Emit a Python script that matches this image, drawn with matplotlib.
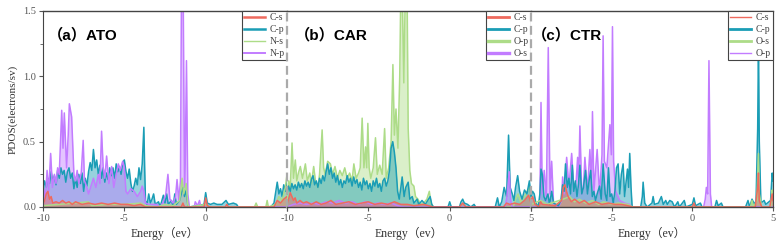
import numpy as np
import matplotlib
matplotlib.use("Agg")
import matplotlib.pyplot as plt

plt.rcParams['axes.unicode_minus'] = False

# ---- data (energy in eV, PDOS in electrons/sv) ----
# (a) ATO
a_cs_e = [-10.0, -9.9, -9.8, -9.7, -9.6, -9.5, -9.4, -9.2, -9.0, -8.8, -8.6, -8.4, -8.2, -8.0, -7.6, -7.2,
          -6.8, -6.4, -6.0, -5.6, -5.2, -4.8, -4.4, -4.0, -3.7, -1.5, -1.4, -1.3, -0.1, 0.0, 0.1, 0.3,
          1.2, 1.3, 1.4, 4.2, 4.4, 4.6, 4.8, 5.0]
a_cs_v = [0.02, 0.05, 0.10, 0.12, 0.06, 0.08, 0.03, 0.04, 0.03, 0.05, 0.03, 0.04, 0.02, 0.04, 0.02, 0.03,
          0.02, 0.03, 0.02, 0.03, 0.02, 0.02, 0.01, 0.02, 0.0, 0.0, 0.03, 0.0, 0.0, 0.07, 0.01, 0.0,
          0.0, 0.02, 0.0, 0.0, 0.05, 0.03, 0.06, 0.08]

a_cp_e = [-10.0, -9.9, -9.8, -9.7, -9.6, -9.5, -9.4, -9.3, -9.2, -9.1, -9.0, -8.9, -8.8, -8.7, -8.6, -8.5,
          -8.4, -8.3, -8.2, -8.1, -8.0, -7.9, -7.8, -7.7, -7.6, -7.5, -7.4, -7.3, -7.2, -7.1, -7.0, -6.9,
          -6.8, -6.7, -6.6, -6.5, -6.4, -6.3, -6.2, -6.1, -6.0, -5.9, -5.8, -5.7, -5.6, -5.5, -5.4, -5.3,
          -5.2, -5.1, -5.0, -4.9, -4.8, -4.7, -4.6, -4.5, -4.4, -4.3, -4.2, -4.1, -4.0, -3.9, -3.8, -3.75,
          -3.7, -3.6, -3.5, -3.4, -3.3, -3.2, -3.1, -2.9, -2.8, -2.6, -2.5, -2.4, -2.3, -2.1, -2.0, -1.9,
          -1.8, -1.6, -1.4, -1.3, -1.2, -1.1, -1.0, -0.1, 0.0, 0.1, 0.3, 0.5, 0.7, 1.0, 1.25, 1.4,
          1.7, 1.9, 2.0, 4.0, 4.2, 4.4, 4.5, 4.6, 4.7, 4.8, 4.9, 5.0]
a_cp_v = [0.12, 0.20, 0.15, 0.22, 0.18, 0.27, 0.20, 0.24, 0.17, 0.28, 0.22, 0.30, 0.25, 0.28, 0.19, 0.27,
          0.30, 0.22, 0.26, 0.14, 0.22, 0.15, 0.25, 0.18, 0.26, 0.12, 0.22, 0.16, 0.27, 0.34, 0.28, 0.44,
          0.30, 0.36, 0.25, 0.32, 0.22, 0.30, 0.19, 0.26, 0.21, 0.30, 0.24, 0.30, 0.22, 0.33, 0.27, 0.31,
          0.25, 0.34, 0.36, 0.27, 0.22, 0.29, 0.18, 0.12, 0.16, 0.22, 0.17, 0.30, 0.21, 0.33, 0.61, 0.30,
          0.05, 0.02, 0.10, 0.03, 0.06, 0.10, 0.02, 0.04, 0.0, 0.09, 0.03, 0.10, 0.02, 0.05, 0.0, 0.10,
          0.02, 0.05, 0.15, 0.08, 0.13, 0.02, 0.0, 0.02, 0.11, 0.03, 0.02, 0.03, 0.02, 0.02, 0.05, 0.02,
          0.03, 0.02, 0.0, 0.0, 0.03, 0.19, 0.10, 0.14, 0.08, 0.17, 0.12, 0.20]

a_ns_e = [-10.0, -9.0, -7.2, -7.0, -6.0, -5.0, -4.0, -3.7, -3.0, -2.5, -2.0, -1.6, -1.45, -1.35, -1.2, -1.1,
          -1.0, 0.0, 0.2, 3.0, 3.1, 3.2, 3.7, 3.78, 3.85, 4.3, 4.5, 4.7, 4.9, 5.0]
a_ns_v = [0.01, 0.02, 0.04, 0.01, 0.02, 0.02, 0.03, 0.01, 0.0, 0.02, 0.01, 0.05, 0.22, 0.10, 0.18, 0.02,
          0.0, 0.02, 0.0, 0.0, 0.03, 0.0, 0.0, 0.05, 0.0, 0.02, 0.08, 0.05, 0.15, 0.25]

a_np_e = [-10.0, -9.95, -9.85, -9.75, -9.65, -9.53, -9.42, -9.3, -9.2, -9.1, -9.0, -8.85, -8.77, -8.69,
          -8.55, -8.45, -8.38, -8.24, -8.1, -8.0, -7.9, -7.8, -7.65, -7.53, -7.45, -7.3, -7.2, -7.0,
          -6.9, -6.75, -6.6, -6.5, -6.4, -6.3, -6.2, -6.09, -5.95, -5.85, -5.78, -5.65, -5.5, -5.37,
          -5.25, -5.1, -5.0, -4.9, -4.8, -4.6, -4.4, -4.2, -4.0, -3.9, -3.8, -3.7, -3.5, -3.0, -2.8,
          -2.6, -2.45, -2.32, -2.2, -2.0, -1.85, -1.76, -1.65, -1.55, -1.49, -1.38, -1.3, -1.25, -1.18,
          -1.1, -1.0, -0.7, -0.64, -0.5, -0.38, -0.3, 5.0]
a_np_v = [0.05, 0.14, 0.06, 0.28, 0.12, 0.41, 0.15, 0.25, 0.18, 0.30, 0.25, 0.74, 0.45, 0.72,
          0.30, 0.55, 0.79, 0.69, 0.25, 0.20, 0.28, 0.18, 0.26, 0.51, 0.20, 0.15, 0.10, 0.18,
          0.22, 0.15, 0.25, 0.18, 0.58, 0.30, 0.22, 0.39, 0.18, 0.25, 0.31, 0.15, 0.25, 0.33,
          0.28, 0.35, 0.30, 0.12, 0.10, 0.14, 0.12, 0.08, 0.12, 0.16, 0.12, 0.03, 0.02, 0.02, 0.0,
          0.04, 0.10, 0.25, 0.06, 0.03, 0.08, 0.21, 0.05, 0.20, 1.60, 1.60, 0.15, 0.40, 1.12,
          0.10, 0.0, 0.0, 0.04, 0.01, 0.05, 0.0, 0.0]

# (b) CAR
b_cs_e = [-10.0, -9.9, -9.8, -9.7, -9.6, -9.5, -9.4, -9.2, -9.0, -8.8, -8.5, -8.2, -7.9, -7.6, -7.3, -7.0,
          -6.6, -6.2, -5.8, -5.4, -5.0, -4.6, -4.2, -3.8, -3.4, -3.0, -2.6, -2.2, -1.6, -1.0, 0.6, 0.8,
          1.0, 3.3, 3.5, 3.7, 4.0, 4.3, 4.6, 4.85, 5.0]
b_cs_v = [0.02, 0.06, 0.11, 0.08, 0.05, 0.07, 0.03, 0.05, 0.03, 0.04, 0.02, 0.04, 0.02, 0.03, 0.05, 0.02,
          0.03, 0.04, 0.02, 0.03, 0.04, 0.02, 0.03, 0.02, 0.04, 0.02, 0.02, 0.01, 0.02, 0.0, 0.0, 0.03,
          0.0, 0.0, 0.03, 0.02, 0.03, 0.02, 0.05, 0.09, 0.03]

b_cp_e = [-10.0, -9.9, -9.8, -9.7, -9.6, -9.5, -9.4, -9.3, -9.2, -9.1, -9.0, -8.9, -8.8, -8.7, -8.6, -8.5,
          -8.4, -8.3, -8.2, -8.1, -8.0, -7.9, -7.8, -7.7, -7.6, -7.5, -7.4, -7.3, -7.2, -7.1, -7.0, -6.9,
          -6.8, -6.7, -6.6, -6.5, -6.4, -6.3, -6.2, -6.1, -6.0, -5.9, -5.8, -5.7, -5.6, -5.5, -5.4, -5.3,
          -5.2, -5.1, -5.0, -4.9, -4.8, -4.7, -4.6, -4.5, -4.4, -4.3, -4.2, -4.1, -4.0, -3.9, -3.8, -3.7,
          -3.6, -3.5, -3.4, -3.3, -3.2, -3.1, -3.0, -2.92, -2.8, -2.7, -2.55, -2.45, -2.3, -2.2, -2.0, -1.9,
          -1.7, -1.5, -1.3, -1.2, -1.1, -1.0, -0.1, 0.0, 0.1, 0.6, 0.7, 0.8, 0.9, 1.1, 1.3, 1.5,
          1.6, 2.8, 2.94, 3.05, 3.2, 3.35, 3.5, 3.62, 3.72, 3.85, 3.95, 4.05, 4.18, 4.3, 4.45, 4.6,
          4.75, 4.9, 5.0]
b_cp_v = [0.10, 0.16, 0.12, 0.18, 0.14, 0.17, 0.13, 0.19, 0.15, 0.18, 0.14, 0.20, 0.16, 0.19, 0.15, 0.21,
          0.24, 0.17, 0.20, 0.15, 0.22, 0.18, 0.24, 0.20, 0.27, 0.33, 0.25, 0.30, 0.22, 0.26, 0.19, 0.24,
          0.17, 0.21, 0.15, 0.20, 0.18, 0.24, 0.19, 0.22, 0.16, 0.23, 0.18, 0.21, 0.15, 0.19, 0.13, 0.22,
          0.17, 0.20, 0.14, 0.18, 0.12, 0.20, 0.16, 0.22, 0.15, 0.18, 0.12, 0.20, 0.22, 0.16, 0.20, 0.28,
          0.45, 0.50, 0.42, 0.30, 0.12, 0.06, 0.15, 0.23, 0.08, 0.15, 0.19, 0.06, 0.08, 0.03, 0.06, 0.02,
          0.05, 0.02, 0.06, 0.08, 0.02, 0.0, 0.0, 0.04, 0.0, 0.0, 0.04, 0.06, 0.03, 0.02, 0.0, 0.02,
          0.0, 0.0, 0.07, 0.0, 0.04, 0.15, 0.08, 0.55, 0.15, 0.10, 0.05, 0.15, 0.24, 0.12, 0.06, 0.13,
          0.10, 0.20, 0.08]

b_op_e = [-10.0, -9.9, -9.8, -9.69, -9.6, -9.49, -9.4, -9.3, -9.18, -9.05, -8.95, -8.87, -8.75, -8.6,
          -8.5, -8.36, -8.25, -8.1, -8.0, -7.84, -7.75, -7.65, -7.5, -7.33, -7.2, -7.05, -6.9, -6.75,
          -6.6, -6.45, -6.3, -6.15, -6.0, -5.89, -5.75, -5.6, -5.5, -5.38, -5.27, -5.17, -5.1, -5.03,
          -4.95, -4.85, -4.7, -4.56, -4.45, -4.3, -4.15, -4.0, -3.9, -3.75, -3.6, -3.49, -3.4, -3.3,
          -3.18, -3.07, -3.0, -2.92, -2.82, -2.72, -2.62, -2.55, -2.45, -2.35, -2.2, -2.1, -1.95, -1.8,
          -1.6, -1.4, -1.25, -1.15, -1.0, 3.9, 4.05, 4.2, 4.35, 4.6, 4.9, 5.0]
b_op_v = [0.05, 0.20, 0.15, 0.49, 0.22, 0.36, 0.20, 0.26, 0.31, 0.22, 0.28, 0.33, 0.20, 0.26,
          0.18, 0.31, 0.20, 0.15, 0.25, 0.59, 0.30, 0.25, 0.35, 0.33, 0.25, 0.31, 0.22, 0.28,
          0.24, 0.30, 0.22, 0.26, 0.20, 0.33, 0.22, 0.26, 0.30, 0.68, 0.30, 0.46, 0.30, 0.64,
          0.30, 0.22, 0.30, 0.53, 0.25, 0.32, 0.25, 0.60, 0.22, 0.30, 0.50, 1.09, 0.55, 0.75,
          0.45, 1.00, 1.70, 1.70, 0.95, 1.70, 1.70, 0.60, 0.28, 0.18, 0.16, 0.08, 0.06, 0.02,
          0.03, 0.06, 0.12, 0.03, 0.0, 0.0, 0.06, 0.10, 0.04, 0.08, 0.15, 0.08]

b_os_e = [-10.0, -9.6, -9.2, -8.8, -8.4, -8.0, -7.6, -7.2, -6.8, -6.4, -6.0, -5.6, -5.2, -4.8, -4.4, -4.0,
          -3.6, -3.2, -2.8, 3.4, 3.5, 3.6, 3.66, 3.75, 3.85, 5.0]
b_os_v = [0.0, 0.02, 0.03, 0.02, 0.03, 0.02, 0.04, 0.03, 0.05, 0.03, 0.04, 0.02, 0.04, 0.02, 0.03, 0.02,
          0.03, 0.01, 0.0, 0.0, 0.06, 0.18, 0.27, 0.05, 0.0, 0.0]

# (c) CTR
c_cs_e = [-10.0, -9.9, -9.75, -9.5, -9.4, -9.3, -8.5, -8.1, -8.0, -7.9, -7.8, -7.7, -7.5, -7.3, -7.0, -6.7,
          -6.4, -6.0, -5.6, -5.2, -4.8, -4.4, -4.0, -3.7, 0.0, 0.1, 0.2, 3.9, 4.05, 4.1, 4.15, 4.3,
          4.8, 4.95, 5.0]
c_cs_v = [0.05, 0.08, 0.02, 0.0, 0.04, 0.02, 0.01, 0.05, 0.15, 0.17, 0.12, 0.08, 0.04, 0.06, 0.03, 0.05,
          0.02, 0.04, 0.02, 0.03, 0.02, 0.02, 0.01, 0.0, 0.0, 0.03, 0.0, 0.0, 0.15, 0.26, 0.05, 0.0,
          0.0, 0.10, 0.05]

c_cp_e = [-10.0, -9.9, -9.8, -9.7, -9.55, -9.45, -9.38, -9.3, -9.2, -9.1, -8.95, -8.85, -8.72, -8.6,
          -8.45, -8.3, -8.15, -8.04, -7.95, -7.86, -7.75, -7.65, -7.55, -7.44, -7.35, -7.25, -7.15,
          -7.05, -6.97, -6.85, -6.75, -6.62, -6.5, -6.4, -6.3, -6.2, -6.1, -6.0, -5.9, -5.75, -5.65,
          -5.53, -5.4, -5.3, -5.2, -5.1, -5.0, -4.9, -4.8, -4.7, -4.6, -4.5, -4.4, -4.29, -4.2, -4.1,
          -4.02, -3.95, -3.88, -3.8, -3.73, -3.2, -3.1, -3.05, -2.95, -2.8, -2.5, -2.43, -2.35, -2.1,
          -1.92, -1.8, -1.65, -1.55, -1.4, -1.25, -1.1, -0.9, -0.8, -0.5, -0.4, 0.0, 0.1, 0.2, 0.5,
          0.6, 1.4, 1.5, 1.6, 1.8, 1.9, 3.3, 3.45, 3.55, 3.7, 3.85, 3.95, 4.05, 4.1, 4.15, 4.25,
          4.45, 4.55, 4.85, 4.95, 5.0]
c_cp_v = [0.08, 0.12, 0.10, 0.03, 0.0, 0.10, 0.29, 0.25, 0.08, 0.05, 0.10, 0.02, 0.12, 0.03,
          0.02, 0.01, 0.05, 0.17, 0.12, 0.33, 0.15, 0.22, 0.10, 0.32, 0.12, 0.20, 0.08,
          0.18, 0.32, 0.10, 0.15, 0.28, 0.10, 0.20, 0.28, 0.08, 0.12, 0.05, 0.10, 0.16, 0.06,
          0.33, 0.10, 0.05, 0.30, 0.08, 0.10, 0.03, 0.12, 0.30, 0.33, 0.10, 0.25, 0.33, 0.08, 0.20,
          0.29, 0.15, 0.41, 0.15, 0.0, 0.0, 0.08, 0.19, 0.03, 0.0, 0.03, 0.08, 0.02, 0.03,
          0.08, 0.02, 0.05, 0.02, 0.05, 0.04, 0.0, 0.04, 0.0, 0.05, 0.0, 0.02, 0.07, 0.01, 0.03,
          0.0, 0.0, 0.05, 0.01, 0.03, 0.0, 0.0, 0.05, 0.0, 0.06, 0.02, 0.05, 0.60, 1.25, 0.50, 0.03,
          0.05, 0.02, 0.05, 0.26, 0.20]

c_os_e = [-10.0, -9.4, -9.0, -8.0, -7.6, -7.3, -7.0, -6.6, -6.2, -5.8, -5.5, -5.0, -4.6, -4.0, -3.7, 3.6,
          3.7, 3.8, 4.0, 4.1, 4.15, 4.3, 4.85, 4.95, 5.0]
c_os_v = [0.02, 0.05, 0.02, 0.06, 0.08, 0.04, 0.06, 0.03, 0.05, 0.02, 0.04, 0.02, 0.03, 0.02, 0.0, 0.0,
          0.05, 0.0, 0.05, 0.41, 0.10, 0.0, 0.0, 0.13, 0.08]

c_op_e = [-10.0, -9.5, -9.45, -9.38, -9.3, -9.18, -9.05, -8.93, -8.82, -8.72, -8.6, -8.3, -8.1, -8.04,
          -7.95, -7.79, -7.65, -7.48, -7.35, -7.2, -7.11, -7.05, -6.97, -6.85, -6.75, -6.66, -6.5,
          -6.35, -6.25, -6.19, -6.1, -5.9, -5.75, -5.6, -5.53, -5.45, -5.3, -5.11, -5.02, -4.95, -4.88,
          -4.75, -4.5, -4.2, -3.9, -3.7, 0.7, 0.8, 0.87, 0.95, 1.03, 1.12, 1.2, 5.0]
c_op_v = [0.0, 0.0, 0.05, 0.80, 0.10, 0.28, 0.05, 1.22, 0.10, 0.35, 0.02, 0.0, 0.05, 0.23,
          0.10, 0.38, 0.15, 0.41, 0.15, 0.20, 0.38, 0.15, 0.62, 0.10, 0.15, 0.38, 0.12,
          0.44, 0.15, 0.73, 0.12, 0.44, 0.10, 0.40, 1.31, 0.35, 0.30, 0.63, 0.40, 1.38, 0.35,
          0.12, 0.05, 0.03, 0.02, 0.0, 0.0, 0.06, 0.15, 0.10, 1.12, 0.10, 0.0, 0.0]

RED = '#ef6a5e'
TEAL = '#1a9db5'
GREEN = '#addc88'
PURPLE = '#c27cff'

panels = [
    dict(title='（a）ATO', tx=0.02, series=[
        ('C-p', a_cp_e, a_cp_v, TEAL, 1.8), ('N-p', a_np_e, a_np_v, PURPLE, 1.4),
        ('N-s', a_ns_e, a_ns_v, GREEN, 1.0), ('C-s', a_cs_e, a_cs_v, RED, 1.8)],
        order=['C-s', 'C-p', 'N-s', 'N-p'], xlabels=['-10', '-5', '0', '']),
    dict(title='（b）CAR', tx=0.032, series=[
        ('O-p', b_op_e, b_op_v, GREEN, 2.4), ('C-p', b_cp_e, b_cp_v, TEAL, 2.0),
        ('O-s', b_os_e, b_os_v, PURPLE, 2.4), ('C-s', b_cs_e, b_cs_v, RED, 2.0)],
        order=['C-s', 'C-p', 'O-p', 'O-s'], xlabels=['-10', '-5', '0', '5']),
    dict(title='（c）CTR', tx=0.002, series=[
        ('O-p', c_op_e, c_op_v, PURPLE, 1.0), ('C-p', c_cp_e, c_cp_v, TEAL, 2.0),
        ('O-s', c_os_e, c_os_v, GREEN, 2.0), ('C-s', c_cs_e, c_cs_v, RED, 1.0)],
        order=['C-s', 'C-p', 'O-s', 'O-p'], xlabels=['', '-5', '0', '5']),
]

fig = plt.figure(figsize=(7.83, 2.46), dpi=100)
lefts = [43, 287, 531]
rights = [287, 531, 773]
serif = ['Liberation Serif', 'Noto Sans CJK SC']

for i, p in enumerate(panels):
    ax = fig.add_axes([lefts[i] / 783, 1 - 207 / 246, (rights[i] - lefts[i]) / 783, 196 / 246])
    handles = {}
    for name, e, v, col, lw in p['series']:
        ax.fill_between(e, v, 0, color=col, alpha=0.45, lw=0)
        ax.plot(e, v, color=col, lw=1.1)
        # legend handle with its own width
        handles[name] = plt.Line2D([], [], color=col, lw=lw)
    ax.set_xlim(-10, 5)
    ax.set_ylim(0, 1.5)
    ax.set_xticks([-10, -5, 0, 5])
    ax.set_xticklabels(p['xlabels'])
    ax.tick_params(axis='both', direction='out', length=3, width=0.8, colors='#555555',
                   labelsize=7.5, pad=2)
    for lab in ax.get_xticklabels() + ax.get_yticklabels():
        lab.set_family(serif)
    if i == 0:
        ax.set_yticks([0, 0.5, 1.0, 1.5])
        ax.set_yticklabels(['0.0', '0.5', '1.0', '1.5'])
        ax.set_yticks(np.arange(0, 1.51, 0.25), minor=True)
        ax.tick_params(axis='y', which='minor', length=2, colors='#555555')
        ax.set_ylabel('PDOS(electrons/sv)', family=serif, fontsize=8, color='#333333', labelpad=4)
    else:
        ax.set_yticks([])
        ax.spines['left'].set_linestyle((0, (3, 3)))
        ax.spines['left'].set_color('#aaaaaa')
        ax.spines['left'].set_linewidth(1.6)
    if i < 2:
        ax.spines['right'].set_visible(False)
    for s in ['top', 'bottom']:
        ax.spines[s].set_color('#444444')
        ax.spines[s].set_linewidth(1.0)
    if i == 0:
        ax.spines['left'].set_color('#444444')
    ax.spines['right'].set_color('#444444')
    ax.set_xlabel('Energy（ev）', family=serif, fontsize=8.5, color='#333333', labelpad=3)

    ax.text(p['tx'], 0.875, p['title'], transform=ax.transAxes, fontsize=11, fontweight='bold',
            family=['Liberation Sans', 'Noto Sans CJK SC'], va='center', ha='left')

    leg = ax.legend([handles[n] for n in p['order']], p['order'], loc='upper right',
                    borderaxespad=0.05, fancybox=False, framealpha=1, edgecolor='#444444',
                    prop={'family': 'Liberation Serif', 'size': 7}, handlelength=2.1,
                    handletextpad=0.5, labelspacing=0.3, borderpad=0.2)
    leg.get_frame().set_linewidth(0.8)
    for t in leg.get_texts():
        t.set_color('#444444')

fig.savefig('out.png', dpi=100)
